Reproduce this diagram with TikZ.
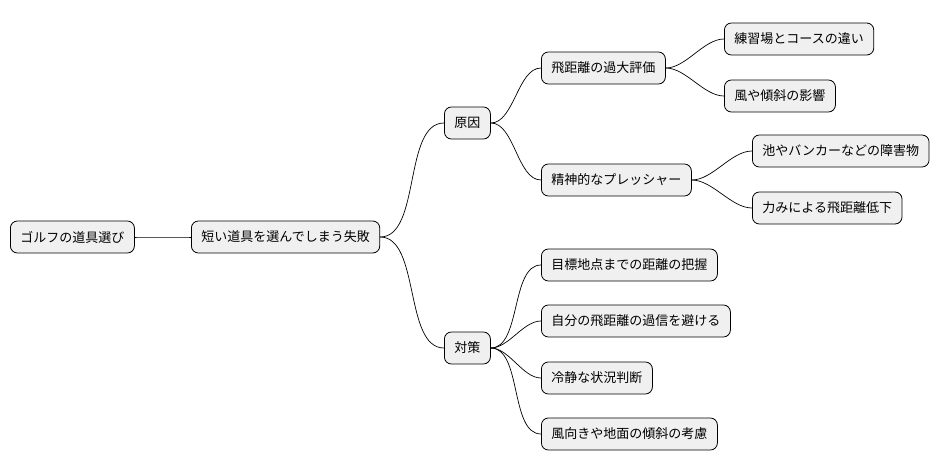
\documentclass[tikz,border=0pt]{standalone}
\usepackage{fontspec}
\setmainfont{Noto Sans CJK JP}
\begin{document}
\begin{tikzpicture}[x=1pt,y=-1pt,
  box/.style={draw=black,fill=black!6,rounded corners=7pt,anchor=west,minimum height=32pt,inner xsep=10pt,font=\fontsize{13pt}{15pt}\selectfont,line width=0.8pt},
  ln/.style={draw=black,line width=0.7pt}]
\useasboundingbox (0,0) rectangle (950,471);
\node[box] (r) at (10,237) {ゴルフの道具選び};
\node[box] (f) at (191,237) {短い道具を選んでしまう失敗};
\node[box] (c) at (444,123) {原因};
\node[box] (t) at (444,348) {対策};
\node[box] (c1) at (541,68) {飛距離の過大評価};
\node[box] (c2) at (541,180) {精神的なプレッシャー};
\node[box] (c11) at (724,39) {練習場とコースの違い};
\node[box] (c12) at (724,96) {風や傾斜の影響};
\node[box] (c21) at (752,151) {池やバンカーなどの障害物};
\node[box] (c22) at (752,208) {力みによる飛距離低下};
\node[box] (t1) at (541,265) {目標地点までの距離の把握};
\node[box] (t2) at (541,321) {自分の飛距離の過信を避ける};
\node[box] (t3) at (541,378) {冷静な状況判断};
\node[box] (t4) at (541,434) {風向きや地面の傾斜の考慮};
\foreach \a/\b in {r/f,f/c,f/t,c/c1,c/c2,c1/c11,c1/c12,c2/c21,c2/c22,t/t1,t/t2,t/t3,t/t4}
  \draw[ln] (\a.east) to[out=0,in=180,looseness=0.8] (\b.west);
\end{tikzpicture}
\end{document}
